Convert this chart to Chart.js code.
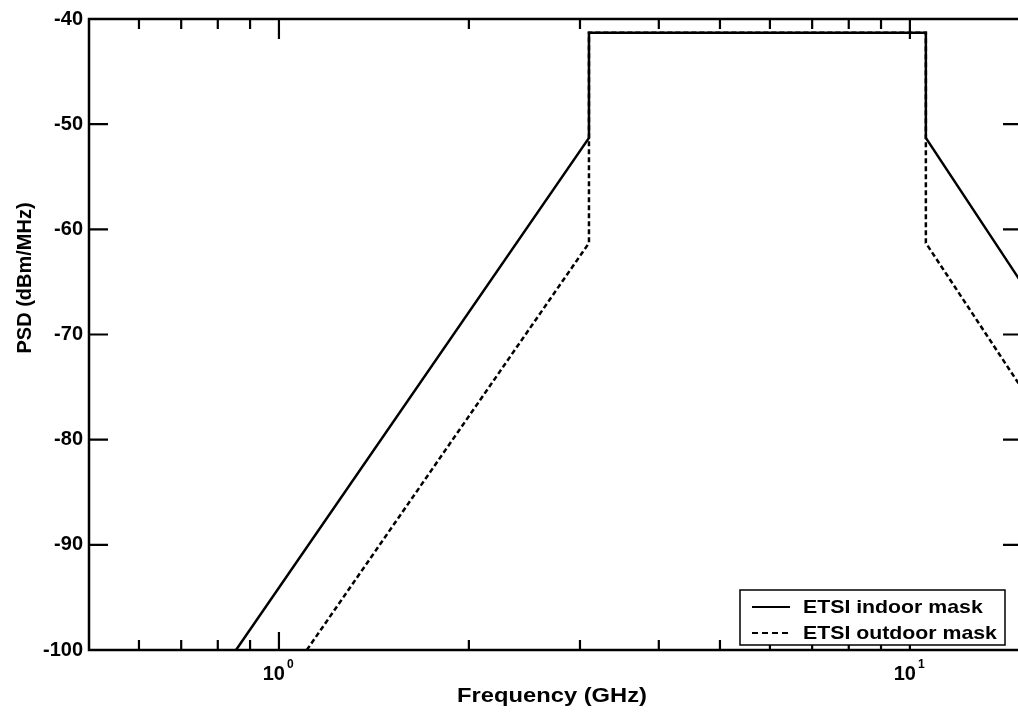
<!DOCTYPE html>
<html>
<head>
<meta charset="utf-8">
<script src="https://cdn.jsdelivr.net/npm/chart.js@4/dist/chart.umd.min.js"></script>
<style>
  html, body { margin: 0; padding: 0; background: #fff; overflow: hidden; }
  #wrap { position: relative; width: 1040px; height: 723px; }
</style>
</head>
<body>
<div id="wrap"><canvas id="c"></canvas></div>
<script>
// ETSI UWB spectral masks, frequency in GHz, PSD in dBm/MHz
const freqIndoor  = [0.855, 3.1, 3.1, 10.6, 10.6, 15];
const psdIndoor   = [-100, -51.3, -41.3, -41.3, -51.3, -65];
const freqOutdoor = [1.107, 3.1, 3.1, 10.6, 10.6, 15];
const psdOutdoor  = [-100, -61.3, -41.3, -41.3, -61.3, -75];
const seriesNames = ['ETSI indoor mask', 'ETSI outdoor mask'];

// axis ticks
const psdTicks = [-100, -90, -80, -70, -60, -50, -40];
const decadeTicks = [1, 10];
const decadeExponents = ['0', '1'];
const minorFreqTicks = [0.6, 0.7, 0.8, 0.9, 2, 3, 4, 5, 6, 7, 8, 9];
const xTitle = 'Frequency (GHz)';
const yTitle = 'PSD (dBm/MHz)';

const FONT = '"Liberation Sans", Arial, Helvetica, sans-serif';

function toPoints(xs, ys) { return xs.map((x, i) => ({ x: x, y: ys[i] })); }

// text drawn slightly wider than the font's natural width
function wideText(ctx, text, x, y, stretch) {
  ctx.save();
  ctx.translate(x, y);
  ctx.scale(stretch, 1);
  ctx.fillText(text, 0, 0);
  ctx.restore();
}

const frameAndLabels = {
  id: 'frameAndLabels',
  afterDatasetsDraw(chart) {
    const { ctx, chartArea: a, scales } = chart;
    const xs = scales.x, ys = scales.y;
    ctx.save();
    ctx.strokeStyle = '#000';
    ctx.fillStyle = '#000';
    ctx.lineCap = 'butt';

    // inward tick marks on all four sides
    ctx.lineWidth = 2.2;
    ctx.beginPath();
    psdTicks.forEach(v => {
      if (v === psdTicks[0] || v === psdTicks[psdTicks.length - 1]) return;
      const y = ys.getPixelForValue(v);
      ctx.moveTo(a.left, y); ctx.lineTo(a.left + 19, y);
      ctx.moveTo(a.right, y); ctx.lineTo(a.right - 18, y);
    });
    minorFreqTicks.forEach(v => {
      const x = xs.getPixelForValue(v);
      ctx.moveTo(x, a.bottom); ctx.lineTo(x, a.bottom - 10);
      ctx.moveTo(x, a.top); ctx.lineTo(x, a.top + 10);
    });
    decadeTicks.forEach(v => {
      const x = xs.getPixelForValue(v);
      ctx.moveTo(x, a.bottom); ctx.lineTo(x, a.bottom - 18);
      ctx.moveTo(x, a.top); ctx.lineTo(x, a.top + 20);
    });
    ctx.stroke();

    // plot frame
    ctx.lineWidth = 2.5;
    ctx.strokeRect(a.left, a.top, a.right - a.left, a.bottom - a.top);

    // decade labels 10^n
    decadeTicks.forEach((v, i) => {
      const x = xs.getPixelForValue(v);
      ctx.font = 'bold 20px ' + FONT;
      ctx.textAlign = 'right';
      ctx.textBaseline = 'alphabetic';
      ctx.fillText('10', x + 6, a.bottom + 30);
      ctx.font = 'bold 12px ' + FONT;
      ctx.textAlign = 'left';
      ctx.fillText(decadeExponents[i], x + 8, a.bottom + 18);
    });

    // axis titles
    ctx.font = 'bold 21px ' + FONT;
    ctx.textAlign = 'center';
    ctx.textBaseline = 'alphabetic';
    wideText(ctx, xTitle, 552, 702, 1.13);

    ctx.save();
    ctx.translate(25, 278);
    ctx.rotate(-Math.PI / 2);
    ctx.font = 'bold 20px ' + FONT;
    ctx.textBaseline = 'middle';
    ctx.fillText(yTitle, 0, 0);
    ctx.restore();

    // legend box in the lower right corner
    const bx = 740, by = 590, bw = 265, bh = 55;
    ctx.fillStyle = '#fff';
    ctx.fillRect(bx, by, bw, bh);
    ctx.lineWidth = 1.5;
    ctx.strokeStyle = '#000';
    ctx.strokeRect(bx, by, bw, bh);
    chart.data.datasets.forEach((ds, i) => {
      const y = by + 17 + i * 26;
      ctx.beginPath();
      ctx.lineWidth = 2;
      ctx.setLineDash(ds.borderDash ? [6, 4] : []);
      ctx.moveTo(bx + 12, y);
      ctx.lineTo(bx + 50, y);
      ctx.stroke();
      ctx.setLineDash([]);
      ctx.fillStyle = '#000';
      ctx.font = 'bold 19px ' + FONT;
      ctx.textAlign = 'left';
      ctx.textBaseline = 'middle';
      wideText(ctx, ds.label, bx + 63, y + 1, 1.12);
    });
    ctx.restore();
  }
};

new Chart(document.getElementById('c'), {
  type: 'line',
  data: {
    datasets: [
      {
        label: seriesNames[0],
        data: toPoints(freqIndoor, psdIndoor),
        borderColor: '#000',
        borderWidth: 2.5,
        pointRadius: 0,
        tension: 0,
        fill: false
      },
      {
        label: seriesNames[1],
        data: toPoints(freqOutdoor, psdOutdoor),
        borderColor: '#000',
        borderWidth: 2.5,
        borderDash: [5, 3],
        pointRadius: 0,
        tension: 0,
        fill: false
      }
    ]
  },
  options: {
    responsive: true,
    maintainAspectRatio: false,
    animation: false,
    events: [],
    layout: { padding: { top: 19, right: 19, left: 0, bottom: 0 } },
    plugins: {
      legend: { display: false },
      tooltip: { enabled: false },
      title: { display: false }
    },
    scales: {
      x: {
        type: 'logarithmic',
        min: 0.5,
        max: 15,
        grid: { display: false, drawTicks: false },
        border: { display: false },
        ticks: { display: false },
        afterFit(scale) { scale.height = 73; }
      },
      y: {
        type: 'linear',
        min: -100,
        max: -40,
        grid: { display: false, drawTicks: false },
        border: { display: false },
        ticks: {
          stepSize: 10,
          padding: 6,
          color: '#000',
          font: { family: FONT, size: 20, weight: 'bold' }
        },
        afterFit(scale) { scale.width = 89; }
      }
    }
  },
  plugins: [frameAndLabels]
});
</script>
</body>
</html>
